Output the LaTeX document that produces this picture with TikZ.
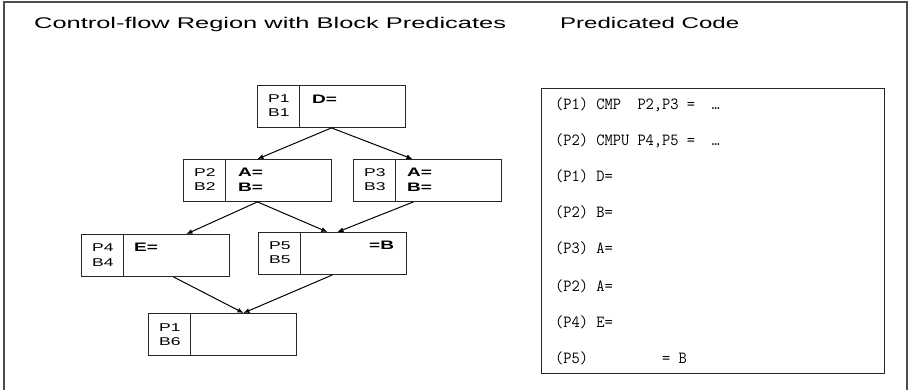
\documentclass[tikz,border=0pt]{standalone}
\usepackage{fontspec}
\setmainfont{Liberation Sans}
\usepackage{graphicx}
\usetikzlibrary{arrows.meta,calc}

% sans text is set wide
\newcommand{\hw}[1]{\scalebox{1.55}[1]{#1}}
% listing text, slightly narrowed
\newcommand{\cw}[1]{\scalebox{0.94}[1]{#1}}

% one basic block: name, top-left corner, predicate tag, block tag
\newcommand{\predblock}[4]{%
  \node[blockbox] (#1) at (#2) {};
  \draw[divider] ([xshift=42pt]#1.north west) -- ([xshift=42pt]#1.south west);
  \node[tag] (#1p) at ([xshift=11pt,yshift=-18pt]#1.north west) {\hw{#3}};
  \node[tag] (#1b) at ([xshift=11pt,yshift=-32pt]#1.north west) {\hw{#4}};
}

\begin{document}
\begin{tikzpicture}[x=1pt,y=-1pt,
  frame/.style={draw=black!70, line width=1.6pt},
  blockbox/.style={draw=black!85, line width=0.9pt, rectangle,
    minimum width=148pt, minimum height=42pt, inner sep=0pt, anchor=north west},
  divider/.style={draw=black!85, line width=0.9pt},
  tag/.style={anchor=base west, inner sep=0pt, font=\fontsize{11.3}{13}\selectfont},
  stmt/.style={anchor=base west, inner sep=0pt, font=\fontsize{12.3}{14}\selectfont\bfseries},
  heading/.style={anchor=base west, inner sep=0pt, font=\fontsize{15.5}{18}\selectfont},
  codebox/.style={draw=black!85, line width=1.3pt, rectangle, inner sep=0pt},
  codeline/.style={anchor=base west, inner sep=0pt, font=\fontsize{17}{19}\selectfont\ttfamily},
  flow/.style={draw=black, line width=1pt, -{Latex[length=6pt,width=5pt]}},
]
\useasboundingbox (0,0) rectangle (908,390);
\fill[white] (0,0) rectangle (908,390);

% surrounding frame, open at the bottom
\draw[frame] (4,392) -- (4,2) -- (907,2) -- (907,392);

% headings
\node[heading] (h1) at (34,29) {\scalebox{1.64}[1]{Control-flow Region with Block Predicates}};
\node[heading] (h2) at (560,29) {\hw{Predicated Code}};

% control-flow region
\predblock{b1}{257,85}{P1}{B1}
\predblock{b2}{183,159}{P2}{B2}
\predblock{b3}{353,159}{P3}{B3}
\predblock{b4}{81,234}{P4}{B4}
\predblock{b5}{258,232}{P5}{B5}
\predblock{b6}{148,313}{P1}{B6}

\node[stmt] (s1) at ([xshift=55pt,yshift=-19pt]b1.north west) {\hw{D=}};
\node[stmt] (s2a) at ([xshift=55pt,yshift=-18pt]b2.north west) {\hw{A=}};
\node[stmt] (s2b) at ([xshift=55pt,yshift=-33pt]b2.north west) {\hw{B=}};
\node[stmt] (s3a) at ([xshift=54pt,yshift=-18pt]b3.north west) {\hw{A=}};
\node[stmt] (s3b) at ([xshift=54pt,yshift=-33pt]b3.north west) {\hw{B=}};
\node[stmt] (s4) at ([xshift=53pt,yshift=-18pt]b4.north west) {\hw{E=}};
\node[stmt] (s5) at ([xshift=111pt,yshift=-18pt]b5.north west) {\hw{=B}};

% edges
\draw[flow] (b1.south) -- (b2.north);
\draw[flow] (b1.south) -- ([xshift=-15pt]b3.north);
\draw[flow] (b2.south) -- ([xshift=31pt]b4.north);
\draw[flow] (b2.south) -- ([xshift=-5pt]b5.north);
\draw[flow] ([xshift=-14pt]b3.south) -- ([xshift=5pt]b5.north);
\draw[flow] ([xshift=18pt]b4.south) -- ([xshift=21pt]b6.north);
\draw[flow] (b5.south) -- ([xshift=21pt]b6.north);

% predicated code listing
\node[codebox, minimum width=343pt, minimum height=285pt, anchor=north west] (code) at (541,88) {};
\node[codeline] (c1) at (555,110) {\cw{(P1) CMP\ \ P2,P3 =\ \ …}};
\node[codeline] (c2) at (555,146) {\cw{(P2) CMPU P4,P5 =\ \ …}};
\node[codeline] (c3) at (555,182) {\cw{(P1) D=}};
\node[codeline] (c4) at (555,218) {\cw{(P2) B=}};
\node[codeline] (c5) at (555,254) {\cw{(P3) A=}};
\node[codeline] (c6) at (555,291) {\cw{(P2) A=}};
\node[codeline] (c7) at (555,327) {\cw{(P4) E=}};
\node[codeline] (c8) at (555,363) {\cw{(P5)\ \ \ \ \ \ \ \ \ = B}};
\end{tikzpicture}
\end{document}
